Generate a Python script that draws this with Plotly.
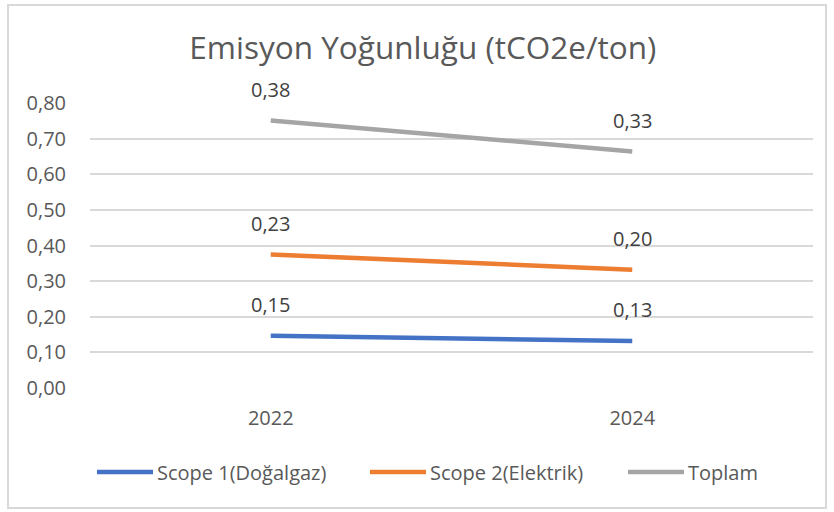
import plotly.graph_objects as go
import numpy as np

# ---- data ----
years = ["2022", "2024"]
scope1 = [0.147, 0.132]
scope2 = [0.228, 0.200]
toplam = [0.376, 0.332]
series_names = ["Scope 1(Doğalgaz)", "Scope 2(Elektrik)", "Toplam"]
series_colors = ["#4472C4", "#ED7D31", "#A5A5A5"]
y_tick_vals = [0.0, 0.1, 0.2, 0.3, 0.4, 0.5, 0.6, 0.7, 0.8]
title_text = "Emisyon Yoğunluğu (tCO2e/ton)"

# ---- layout geometry (pixels) ----
W, H = 834, 512
L, R, T, B = 90, 21, 103, 124
PW, PH = W - L - R, H - T - B


def px_x(p):
    return (p - L) / PW


def px_y(p):
    return (H - B - p) / PH


FONT = "Open Sans"
series = [scope1, scope2, toplam]
cum = np.cumsum(np.array(series), axis=0)

fig = go.Figure()
for vals, name, col in zip(series, series_names, series_colors):
    fig.add_trace(go.Scatter(
        x=years, y=vals, name=name, mode="lines", stackgroup="one", fill="none",
        line=dict(color=col, width=4.5),
        hoverinfo="skip", showlegend=False,
    ))

annotations = []
for i, vals in enumerate(series):
    for j, yr in enumerate(years):
        annotations.append(dict(
            x=j, y=float(cum[i][j]), xref="x", yref="y",
            text=f"{vals[j]:.2f}".replace(".", ","),
            showarrow=False, yshift=31,
            font=dict(family=FONT, size=20, color="#404040"),
        ))

# custom legend (line sample + label), positions in pixels
legend_line_x = [(97, 153), (370, 426), (628, 684)]
legend_y = 472
shapes = [dict(type="rect", xref="paper", yref="paper",
               x0=px_x(8), x1=px_x(826), y0=px_y(508), y1=px_y(5),
               line=dict(color="#D9D9D9", width=2), fillcolor="rgba(0,0,0,0)",
               layer="below")]
for (x0, x1), name, col in zip(legend_line_x, series_names, series_colors):
    shapes.append(dict(type="line", xref="paper", yref="paper",
                       x0=px_x(x0), x1=px_x(x1), y0=px_y(legend_y), y1=px_y(legend_y),
                       line=dict(color=col, width=4.5)))
    annotations.append(dict(x=px_x(x1 + 2), y=px_y(legend_y), xref="paper", yref="paper",
                            text=name, showarrow=False, xanchor="left", yanchor="middle",
                            font=dict(family=FONT, size=20, color="#595959")))

fig.update_layout(
    width=W, height=H,
    margin=dict(l=L, r=R, t=T, b=B),
    paper_bgcolor="white", plot_bgcolor="white",
    separators=",.",
    title=dict(text=title_text, x=0.507, xref="container", xanchor="center",
               y=1 - 48 / H, yref="container", yanchor="middle",
               font=dict(family=FONT, size=31.5, color="#595959")),
    xaxis=dict(type="category", range=[-0.5, 1.5], showgrid=False, zeroline=False,
               showline=False, ticks="", ticklabelstandoff=16,
               tickfont=dict(family=FONT, size=20, color="#595959")),
    yaxis=dict(range=[0, 0.8], tickvals=y_tick_vals, tickformat=".2f",
               showgrid=True, gridcolor="#D9D9D9", gridwidth=1.5,
               zeroline=False, showline=False, ticks="", ticklabelstandoff=23,
               tickfont=dict(family=FONT, size=20, color="#595959")),
    annotations=annotations,
    showlegend=False,
    shapes=shapes,
)

fig.write_html("out.html", config={"displayModeBar": False},
               post_script="document.body.style.margin='0';")
